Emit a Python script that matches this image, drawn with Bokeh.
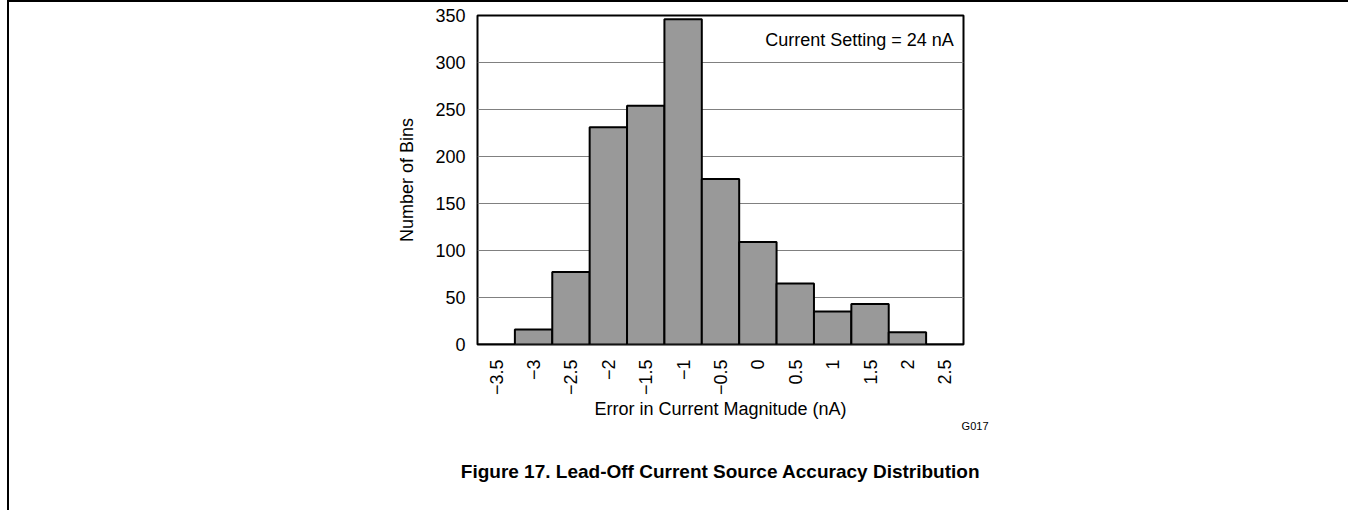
import numpy as np
from bokeh.plotting import figure
from bokeh.models import FixedTicker, Label, Range1d, Title
from bokeh.embed import file_html
from bokeh.resources import INLINE

# ---- data ----
bin_centers = [-3.5, -3.0, -2.5, -2.0, -1.5, -1.0, -0.5, 0.0, 0.5, 1.0, 1.5, 2.0, 2.5]
counts = [0, 16, 77, 231, 254, 346, 176, 109, 65, 35, 43, 13, 0]
x_tick_labels = ["\u22123.5", "\u22123", "\u22122.5", "\u22122", "\u22121.5", "\u22121",
                 "\u22120.5", "0", "0.5", "1", "1.5", "2", "2.5"]
y_ticks = [0, 50, 100, 150, 200, 250, 300, 350]
bin_width = 0.5

FONT = "Liberation Sans"

p = figure(width=1341, height=510, output_backend="svg", toolbar_location=None,
           x_range=Range1d(-3.75, 2.75), y_range=Range1d(0, 350),
           min_border_left=468, min_border_right=387,
           min_border_top=13, min_border_bottom=168)
p.styles = {"margin-left": "7px", "border-left": "2px solid black",
            "border-top": "2px solid black"}
p.background_fill_color = "white"
p.border_fill_color = "white"
p.outline_line_color = "black"
p.outline_line_width = 2

p.vbar(x=bin_centers, top=counts, width=bin_width, bottom=0,
       fill_color="#999999", line_color="black", line_width=2)

p.xgrid.grid_line_color = None
p.ygrid.ticker = FixedTicker(ticks=y_ticks)
p.ygrid.grid_line_color = "#808080"
p.ygrid.grid_line_width = 1

# x axis
p.xaxis.ticker = FixedTicker(ticks=bin_centers)
p.xaxis.major_label_overrides = {c: l for c, l in zip(bin_centers, x_tick_labels)}
p.xaxis.major_label_orientation = np.pi / 2
p.xaxis.major_label_text_font = FONT
p.xaxis.major_label_text_font_size = "18px"
p.xaxis.major_label_text_color = "black"
p.xaxis.major_label_standoff = 15
p.xaxis.axis_label = "Error in Current Magnitude (nA)"
p.xaxis.axis_label_text_font = FONT
p.xaxis.axis_label_text_font_size = "18px"
p.xaxis.axis_label_text_font_style = "normal"
p.xaxis.axis_label_text_color = "black"
p.xaxis.axis_label_standoff = 1

# y axis
p.yaxis.ticker = FixedTicker(ticks=y_ticks)
p.yaxis.major_label_text_font = FONT
p.yaxis.major_label_text_font_size = "18px"
p.yaxis.major_label_text_color = "black"
p.yaxis.major_label_standoff = 12
p.yaxis.axis_label = "Number of Bins"
p.yaxis.axis_label_text_font = FONT
p.yaxis.axis_label_text_font_size = "18px"
p.yaxis.axis_label_text_font_style = "normal"
p.yaxis.axis_label_text_color = "black"
p.yaxis.axis_label_standoff = 15

for ax in (p.xaxis, p.yaxis):
    ax.axis_line_color = None
    ax.major_tick_line_color = None
    ax.minor_tick_line_color = None
    ax.major_tick_out = 0
    ax.major_tick_in = 0
    ax.minor_tick_out = 0
    ax.minor_tick_in = 0

p.add_layout(Label(x=2.62, y=324, text="Current Setting = 24 nA",
                   text_align="right", text_baseline="middle",
                   text_font=FONT, text_font_size="18px", text_color="black"))

p.add_layout(Title(text="G017", align="right", offset=-25, standoff=-9,
                   text_font=FONT, text_font_size="11px",
                   text_font_style="normal", text_color="black"), "below")
p.add_layout(Title(text="Figure 17. Lead-Off Current Source Accuracy Distribution",
                   align="center", offset=25, standoff=62,
                   text_font=FONT, text_font_size="19px",
                   text_font_style="bold", text_color="black"), "below")

open("out.html", "w").write(file_html(p, INLINE))
